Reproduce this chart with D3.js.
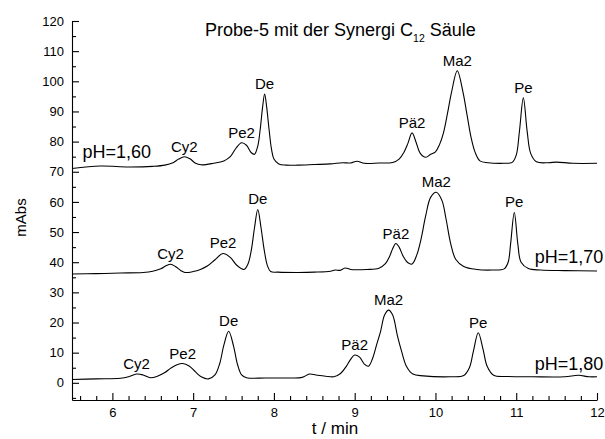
<!DOCTYPE html>
<html>
<head>
<meta charset="utf-8">
<script src="https://cdn.jsdelivr.net/npm/d3@7"></script>
<style>
  html, body { margin: 0; padding: 0; background: #fff; }
  svg { display: block; font-family: "Liberation Sans", Arial, sans-serif; }
  .axis path, .axis line { stroke: #000; stroke-width: 1.1; }
  .axis text { fill: #000; font-size: 13px; font-family: "Liberation Sans", Arial, sans-serif; }
</style>
</head>
<body>
<svg id="chart" width="605" height="439"></svg>
<script>
// ---------- data ----------
const xTicks = [6, 7, 8, 9, 10, 11, 12];
const xMinorTicks = [5.6, 5.8, 6.2, 6.4, 6.6, 6.8, 7.2, 7.4, 7.6, 7.8, 8.2, 8.4, 8.6, 8.8,
  9.2, 9.4, 9.6, 9.8, 10.2, 10.4, 10.6, 10.8, 11.2, 11.4, 11.6, 11.8];
const yTicks = [0, 10, 20, 30, 40, 50, 60, 70, 80, 90, 100, 110, 120];
const yMinorTicks = [-5, 5, 15, 25, 35, 45, 55, 65, 75, 85, 95, 105, 115];

// pH = 1,60 trace
const t160 = [5.5, 5.85, 6.2, 6.5, 6.65, 6.75, 6.82, 6.89, 6.96, 7.03, 7.1, 7.25, 7.38, 7.46, 7.53,
  7.6, 7.66, 7.72, 7.76, 7.8, 7.83, 7.86, 7.885, 7.91, 7.94, 7.97, 8.0, 8.06, 8.15,
  8.3, 8.5, 8.7, 8.85, 8.95, 9.03, 9.12, 9.3, 9.47, 9.55, 9.61, 9.66, 9.71, 9.76, 9.81,
  9.88, 9.94, 10.0, 10.05, 10.1, 10.15, 10.2, 10.27, 10.34, 10.39, 10.44, 10.49, 10.55,
  10.65, 10.85, 10.95, 11.0, 11.04, 11.088, 11.135, 11.18, 11.25, 11.4, 11.5, 11.7, 12.0];
const a160 = [71.1, 71.9, 71.6, 71.8, 72.2, 73.0, 74.2, 75.0, 74.3, 72.8, 72.3, 72.8, 73.6, 75.0, 77.8,
  79.6, 78.8, 76.3, 75.8, 78.5, 84.0, 91.5, 95.8, 91.5, 84.0, 77.5, 74.2, 72.6, 72.2,
  72.2, 72.4, 72.6, 73.0, 72.9, 73.5, 72.8, 72.9, 73.1, 74.2, 76.5, 79.5, 82.9, 79.8, 76.2,
  74.8, 75.8, 76.6, 79.0, 83.0, 89.5, 96.5, 103.5, 96.5, 89.0, 81.5, 76.5, 73.6,
  73.0, 72.8, 73.1, 75.5, 83.5, 94.5, 83.5, 76.0, 73.3, 73.0, 73.2, 72.8, 72.8];

// pH = 1,70 trace
const t170 = [5.5, 5.8, 6.1, 6.38, 6.5, 6.6, 6.67, 6.72, 6.78, 6.85, 6.9, 7.0, 7.09, 7.18, 7.27,
  7.37, 7.46, 7.54, 7.63, 7.68, 7.72, 7.76, 7.8, 7.84, 7.88, 7.92, 7.96, 8.05, 8.3, 8.5,
  8.7, 8.76, 8.82, 8.88, 8.95, 9.15, 9.3, 9.38, 9.43, 9.47, 9.51, 9.55, 9.6, 9.66, 9.71,
  9.77, 9.82, 9.88, 9.94, 10.01, 10.08, 10.13, 10.19, 10.25, 10.35, 10.51, 10.7, 10.85,
  10.9, 10.93, 10.976, 11.02, 11.06, 11.15, 11.3, 11.6, 12.0];
const a170 = [36.1, 36.2, 36.4, 36.6, 37.0, 37.8, 38.9, 39.3, 38.6, 37.2, 36.6, 36.9, 37.6, 38.8, 40.8,
  42.9, 41.6, 39.0, 37.6, 39.5, 44.0, 51.5, 57.5, 51.5, 44.0, 38.8, 36.9, 36.7, 36.6, 36.7,
  37.0, 37.4, 37.3, 38.1, 37.6, 37.6, 38.0, 39.5, 41.8, 44.5, 46.2, 45.0, 42.0, 39.8, 39.4,
  42.5, 47.5, 55.5, 61.5, 63.2, 60.5, 54.5, 46.0, 41.0, 38.6, 37.6, 37.4, 37.8,
  40.0, 46.0, 56.5, 46.0, 40.0, 37.9, 37.4, 37.2, 37.1];

// pH = 1,80 trace
const t180 = [5.5, 5.8, 6.1, 6.2, 6.3, 6.38, 6.47, 6.55, 6.65, 6.72, 6.8, 6.87, 6.95, 7.03, 7.1,
  7.19, 7.27, 7.33, 7.38, 7.44, 7.5, 7.55, 7.6, 7.66, 7.9, 8.2, 8.35, 8.44, 8.52, 8.64,
  8.74, 8.82, 8.9, 8.95, 9.0, 9.06, 9.12, 9.17, 9.22, 9.27, 9.32, 9.37, 9.42, 9.47, 9.53,
  9.58, 9.64, 9.72, 9.85, 10.18, 10.35, 10.42, 10.47, 10.53, 10.59, 10.64, 10.72, 10.9,
  11.2, 11.6, 11.77, 11.9, 12.0];
const a180 = [1.1, 1.3, 1.5, 2.0, 2.9, 2.6, 1.7, 2.1, 3.4, 4.8, 6.0, 6.4, 5.6, 3.6, 2.0,
  1.3, 2.6, 6.5, 12.5, 17.1, 12.2, 6.0, 2.6, 1.7, 1.6, 1.6, 1.8, 2.9, 2.6, 2.2,
  2.0, 3.0, 5.6, 7.8, 9.2, 8.5, 6.2, 5.5, 8.0, 12.5, 17.0, 22.5, 24.1, 22.5, 15.5,
  10.5, 5.5, 2.9, 2.3, 2.0, 2.4, 5.0, 10.5, 16.6, 11.0, 5.5, 2.5, 2.1,
  2.0, 2.0, 2.5, 2.0, 2.0];

// peak labels
const peakNames = ["Cy2", "Pe2", "De", "Pä2", "Ma2", "Pe"];
const peakT160 = [6.89, 7.6, 7.885, 9.71, 10.27, 11.088];
const peakA160 = [75.0, 79.6, 95.8, 82.9, 103.5, 94.5];
const peakT170 = [6.72, 7.37, 7.8, 9.51, 10.01, 10.976];
const peakA170 = [39.3, 42.9, 57.5, 46.2, 63.2, 56.5];
const peakT180 = [6.3, 6.87, 7.44, 9.0, 9.42, 10.53];
const peakA180 = [2.9, 6.4, 17.1, 9.2, 24.1, 16.6];

// trace names and label anchor points (data coordinates)
const phNames = ["pH=1,60", "pH=1,70", "pH=1,80"];
const phT = [5.63, 11.23, 11.23];
const phA = [74.4, 39.8, 4.4];

const titleMain = "Probe-5 mit der Synergi C";
const titleSub = "12";
const titleEnd = " Säule";
const xLabel = "t / min";
const yLabel = "mAbs";

// ---------- chart ----------
const svg = d3.select("#chart");
const x = d3.scaleLinear().domain([5.5, 12]).range([72, 597]);
const y = d3.scaleLinear().domain([-5.7, 120]).range([400, 21]);

// minor ticks
svg.append("g").attr("class", "axis").attr("transform", "translate(0,400)")
  .call(d3.axisBottom(x).tickValues(xMinorTicks).tickFormat("").tickSizeInner(-4).tickSizeOuter(0))
  .call(g => g.select(".domain").remove());
svg.append("g").attr("class", "axis").attr("transform", "translate(72,0)")
  .call(d3.axisLeft(y).tickValues(yMinorTicks).tickFormat("").tickSizeInner(-4).tickSizeOuter(0))
  .call(g => g.select(".domain").remove());

// major axes
svg.append("g").attr("class", "axis").attr("transform", "translate(0,400)")
  .call(d3.axisBottom(x).tickValues(xTicks).tickFormat(d3.format("d")).tickSizeInner(-7).tickSizeOuter(0).tickPadding(8));
svg.append("g").attr("class", "axis").attr("transform", "translate(72,0)")
  .call(d3.axisLeft(y).tickValues(yTicks).tickFormat(d3.format("d")).tickSizeInner(-7).tickSizeOuter(0).tickPadding(8));

// traces
const line = d3.line()
  .x(d => x(d[0]))
  .y(d => y(d[1]))
  .curve(d3.curveCatmullRom.alpha(0.5));

const traces = [
  d3.zip(t160, a160),
  d3.zip(t170, a170),
  d3.zip(t180, a180)
];
svg.append("g").selectAll("path").data(traces).join("path")
  .attr("d", line)
  .attr("fill", "none")
  .attr("stroke", "#000")
  .attr("stroke-width", 1.1)
  .attr("stroke-linejoin", "round");

// peak labels
const peaks = [];
[[peakT160, peakA160], [peakT170, peakA170], [peakT180, peakA180]].forEach(([ts, as]) => {
  ts.forEach((t, i) => peaks.push({ name: peakNames[i], t: t, a: as[i] }));
});
svg.append("g").selectAll("text").data(peaks).join("text")
  .attr("x", d => x(d.t))
  .attr("y", d => y(d.a) - 5)
  .attr("text-anchor", "middle")
  .attr("font-size", 15)
  .attr("fill", "#000")
  .text(d => d.name);

// pH labels
svg.append("g").selectAll("text").data(phNames).join("text")
  .attr("x", (d, i) => x(phT[i]))
  .attr("y", (d, i) => y(phA[i]))
  .attr("font-size", 18)
  .attr("fill", "#000")
  .text(d => d);

// title
const title = svg.append("text")
  .attr("x", 205)
  .attr("y", 36)
  .attr("font-size", 18)
  .attr("fill", "#000");
title.append("tspan").text(titleMain);
title.append("tspan").attr("font-size", 10.5).attr("dy", 6).text(titleSub);
title.append("tspan").attr("dy", -6).text(titleEnd);

// axis titles
svg.append("text")
  .attr("x", 335)
  .attr("y", 434)
  .attr("text-anchor", "middle")
  .attr("font-size", 17)
  .attr("fill", "#000")
  .text(xLabel);
svg.append("text")
  .attr("transform", "translate(26,217.5) rotate(-90)")
  .attr("text-anchor", "middle")
  .attr("font-size", 15)
  .attr("fill", "#000")
  .text(yLabel);
</script>
</body>
</html>
